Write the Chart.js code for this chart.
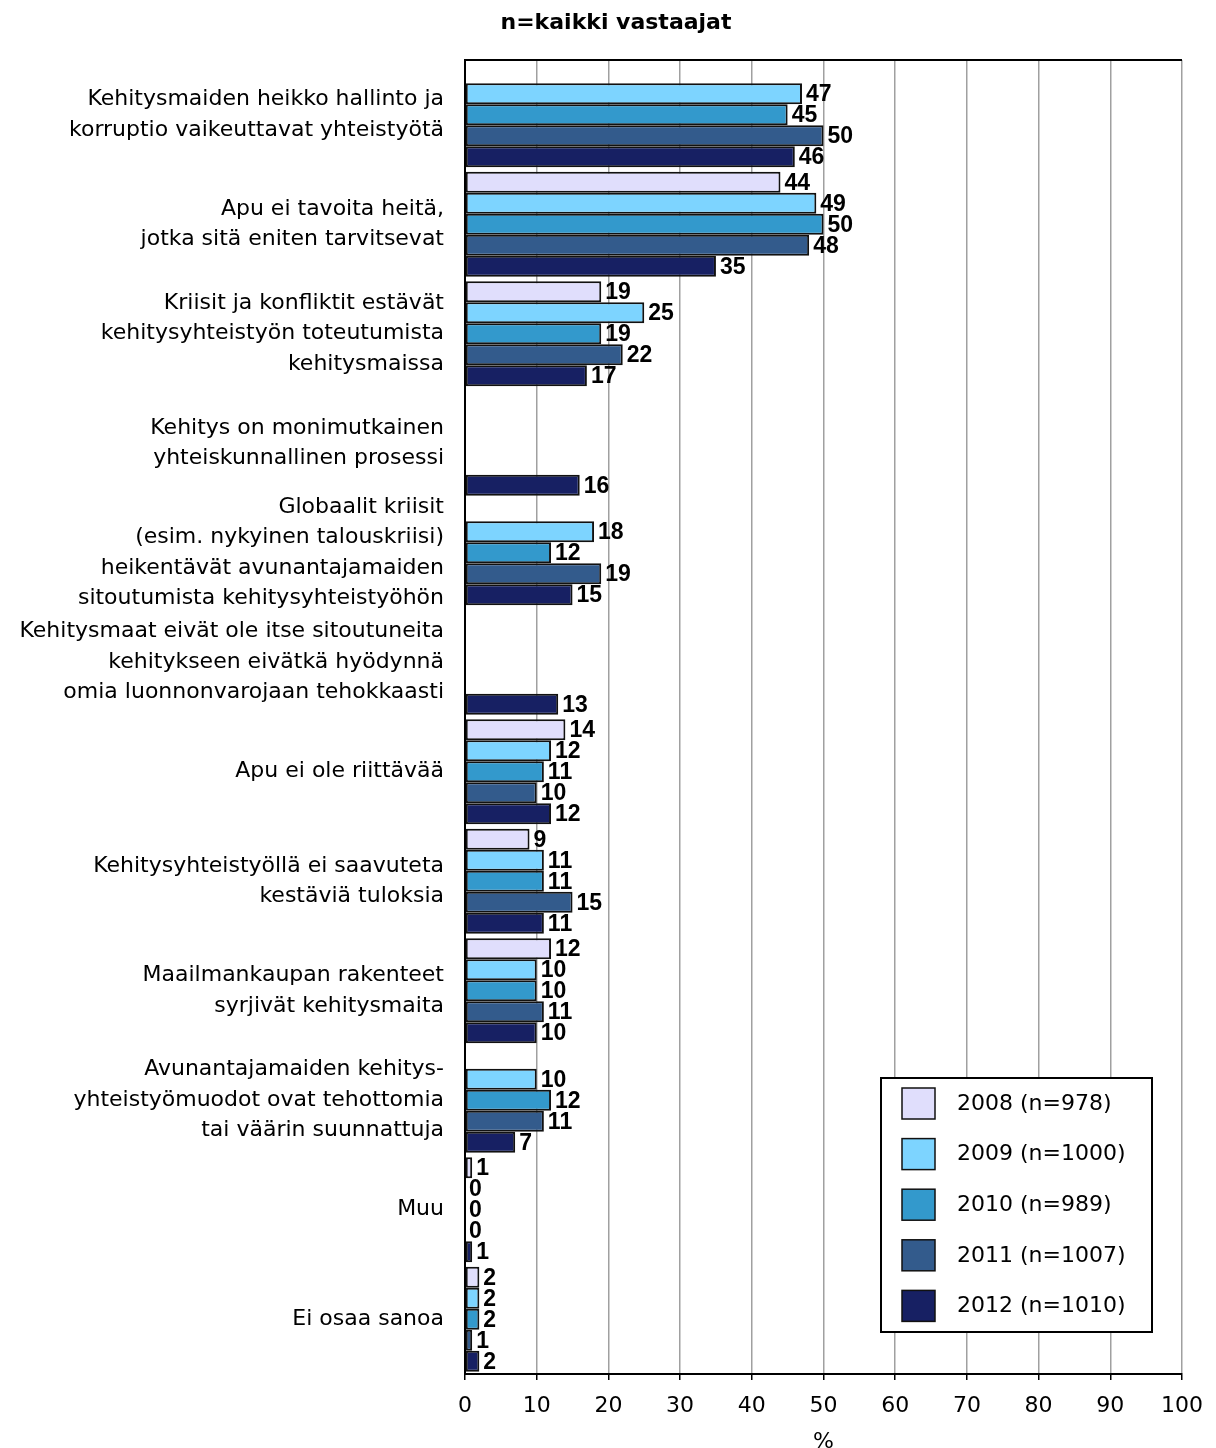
<!DOCTYPE html>
<html>
<head>
<meta charset="utf-8">
<script src="https://cdn.jsdelivr.net/npm/chart.js@4"></script>
<style>
  html, body { margin: 0; padding: 0; background: #fff; }
  #wrap { width: 1216px; height: 1448px; }
</style>
</head>
<body>
<div id="wrap"><canvas id="chart" width="1216" height="1448"></canvas></div>
<script>
const categories = [
    ['Kehitysmaiden heikko hallinto ja', 'korruptio vaikeuttavat yhteistyötä'],
    ['Apu ei tavoita heitä,', 'jotka sitä eniten tarvitsevat'],
    ['Kriisit ja konfliktit estävät', 'kehitysyhteistyön toteutumista', 'kehitysmaissa'],
    ['Kehitys on monimutkainen', 'yhteiskunnallinen prosessi'],
    ['Globaalit kriisit', '(esim. nykyinen talouskriisi)', 'heikentävät avunantajamaiden', 'sitoutumista kehitysyhteistyöhön'],
    ['Kehitysmaat eivät ole itse sitoutuneita', 'kehitykseen eivätkä hyödynnä', 'omia luonnonvarojaan tehokkaasti'],
    ['Apu ei ole riittävää'],
    ['Kehitysyhteistyöllä ei saavuteta', 'kestäviä tuloksia'],
    ['Maailmankaupan rakenteet', 'syrjivät kehitysmaita'],
    ['Avunantajamaiden kehitys-', 'yhteistyömuodot ovat tehottomia', 'tai väärin suunnattuja'],
    ['Muu'],
    ['Ei osaa sanoa']
];

const seriesNames = ['2008 (n=978)', '2009 (n=1000)', '2010 (n=989)', '2011 (n=1007)', '2012 (n=1010)'];

const values2008 = [null, 44, 19, null, null, null, 14, 9, 12, null, 1, 2];
const values2009 = [47, 49, 25, null, 18, null, 12, 11, 10, 10, 0, 2];
const values2010 = [45, 50, 19, null, 12, null, 11, 11, 10, 12, 0, 2];
const values2011 = [50, 48, 22, null, 19, null, 10, 15, 11, 11, 0, 1];
const values2012 = [46, 35, 17, 16, 15, 13, 12, 11, 10, 7, 1, 2];

const xTicks = [0, 10, 20, 30, 40, 50, 60, 70, 80, 90, 100];

const chartTitle = 'n=kaikki vastaajat';

const colors = ['#e0defc', '#7dd4ff', '#3399cc', '#335b8c', '#172063'];
const allValues = [values2008, values2009, values2010, values2011, values2012];

const FONT = '"DejaVu Sans", Verdana, sans-serif';
const LABEL_FONT = 'Arial, "Liberation Sans", sans-serif';

// value labels next to each bar end
const valueLabels = {
    id: 'valueLabels',
    afterDatasetsDraw(chart) {
        const ctx = chart.ctx;
        ctx.save();
        ctx.font = 'bold 23px ' + LABEL_FONT;
        ctx.fillStyle = '#000';
        ctx.textAlign = 'left';
        ctx.textBaseline = 'middle';
        chart.data.datasets.forEach((ds, i) => {
            const meta = chart.getDatasetMeta(i);
            meta.data.forEach((bar, j) => {
                const v = ds.data[j];
                if (v === null || v === undefined) return;
                ctx.fillText(String(v), bar.x + 4, bar.y + 1);
            });
        });
        ctx.restore();
    }
};

// title, top frame line and boxed legend inside the plot
const frameAndLegend = {
    id: 'frameAndLegend',
    afterDraw(chart) {
        const ctx = chart.ctx;
        const area = chart.chartArea;
        ctx.save();

        ctx.font = 'bold 22px ' + FONT;
        ctx.fillStyle = '#000';
        ctx.textAlign = 'center';
        ctx.textBaseline = 'middle';
        ctx.fillText(chartTitle, 616, 23);

        ctx.strokeStyle = '#000';
        ctx.lineWidth = 2;
        ctx.beginPath();
        ctx.moveTo(area.left, area.top);
        ctx.lineTo(area.right, area.top);
        ctx.stroke();

        const boxX = 881, boxY = 1078, boxW = 271, boxH = 254;
        ctx.fillStyle = '#fff';
        ctx.fillRect(boxX, boxY, boxW, boxH);
        ctx.lineWidth = 2;
        ctx.strokeRect(boxX, boxY, boxW, boxH);

        ctx.font = '22px ' + FONT;
        ctx.textAlign = 'left';
        chart.data.datasets.forEach((ds, i) => {
            const cy = boxY + 25 + i * 50.6;
            ctx.fillStyle = ds.backgroundColor;
            ctx.fillRect(boxX + 21, cy - 15, 33, 31);
            ctx.lineWidth = 1.5;
            ctx.strokeStyle = '#111';
            ctx.strokeRect(boxX + 21, cy - 15, 33, 31);
            ctx.fillStyle = '#000';
            ctx.fillText(ds.label, boxX + 76, cy + 1);
        });
        ctx.restore();
    }
};

const datasets = allValues.map((vals, i) => ({
    label: seriesNames[i],
    data: vals,
    backgroundColor: colors[i],
    borderColor: '#111',
    borderWidth: 2,
    borderSkipped: false,
    categoryPercentage: 0.96,
    barPercentage: 1.0
}));

new Chart(document.getElementById('chart'), {
    type: 'bar',
    data: { labels: categories, datasets: datasets },
    plugins: [valueLabels, frameAndLegend],
    options: {
        indexAxis: 'y',
        responsive: false,
        animation: false,
        layout: { padding: { left: 0, right: 34, top: 60, bottom: 0 } },
        plugins: {
            legend: { display: false },
            tooltip: { enabled: false },
            title: { display: false }
        },
        scales: {
            x: {
                min: 0,
                max: 100,
                afterBuildTicks(scale) {
                    scale.ticks = xTicks.map(v => ({ value: v }));
                },
                afterFit(scale) { scale.height = 74; },
                grid: {
                    color: '#a0a0a0',
                    lineWidth: 1.5,
                    tickColor: '#000',
                    tickLength: 6
                },
                border: { color: '#000', width: 2 },
                ticks: {
                    color: '#000',
                    padding: 13,
                    font: { family: FONT, size: 22 }
                },
                title: {
                    display: true,
                    text: '%',
                    color: '#000',
                    font: { family: FONT, size: 22, lineHeight: 0.5 },
                    padding: 0
                }
            },
            y: {
                afterFit(scale) { scale.width = 465; },
                grid: { display: false, drawTicks: false },
                border: { color: '#000', width: 2 },
                ticks: {
                    color: '#000',
                    autoSkip: false,
                    padding: 21,
                    font: { family: FONT, size: 22, lineHeight: 1.386 }
                }
            }
        }
    }
});
</script>
</body>
</html>
